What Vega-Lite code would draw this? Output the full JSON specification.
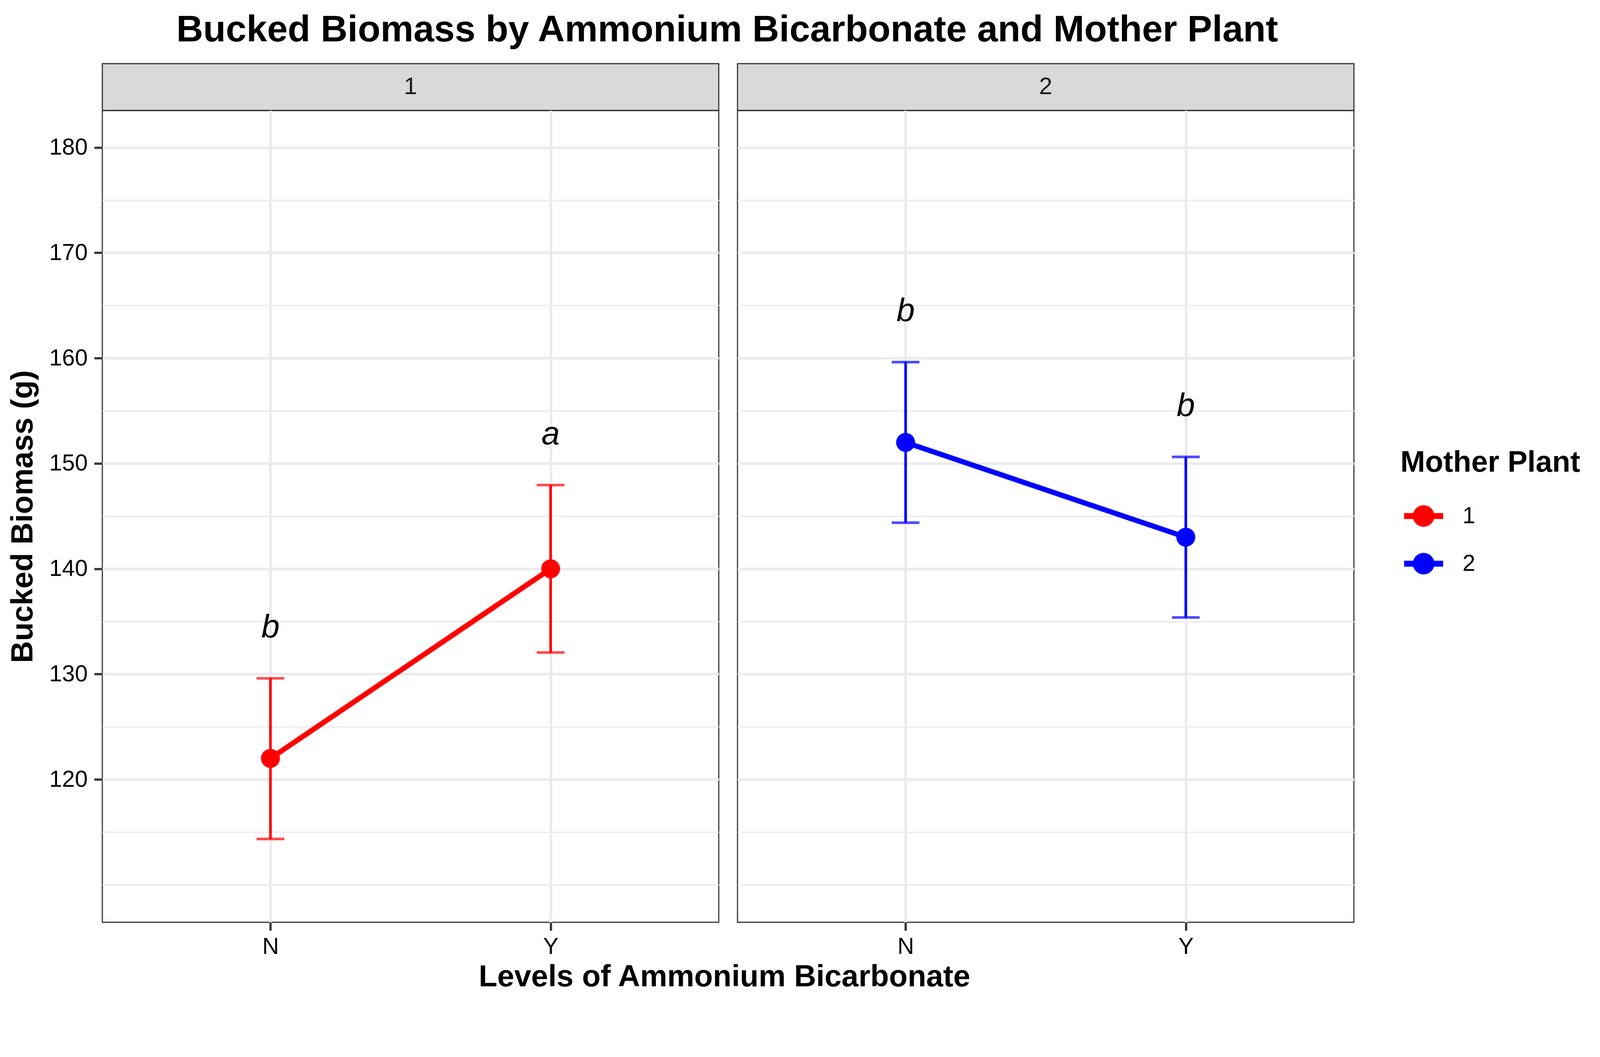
{
  "$schema": "https://vega.github.io/schema/vega-lite/v6.json",
  "background": "white",
  "padding": {"left": 19, "top": 29, "right": 40, "bottom": 20},
  "config": {
    "font": "Liberation Sans",
    "view": {"stroke": "#333333", "strokeWidth": 2.9},
    "axis": {
      "labelFont": "Liberation Sans",
      "labelFontSize": 59,
      "labelColor": "#000000",
      "titleFont": "Liberation Sans",
      "titleFontSize": 78,
      "titleFontWeight": "bold",
      "titleColor": "#000000",
      "tickColor": "#333333",
      "tickSize": 21,
      "tickWidth": 5.7,
      "gridColor": "#EBEBEB",
      "domain": false
    },
    "legend": {
      "orient": "none",
      "legendX": 3323,
      "legendY": 985,
      "padding": 0,
      "titleFontSize": 76,
      "titleFontWeight": "bold",
      "titleColor": "#000000",
      "titleFont": "Liberation Sans",
      "titleBaseline": "top",
      "titlePadding": 47.6,
      "titleLimit": 2000,
      "labelFontSize": 59,
      "labelColor": "#000000",
      "labelFont": "Liberation Sans",
      "labelOffset": 49.5,
      "rowPadding": 42,
      "symbolOffset": 9.5,
      "symbolType": "M-1,-0.152L1,-0.152L1,0.152L-1,0.152Z M0.552,0A0.552,0.552,0,1,1,-0.552,0A0.552,0.552,0,1,1,0.552,0Z",
      "symbolSize": 10000,
      "symbolStrokeWidth": 0,
      "symbolOpacity": 1
    }
  },
  "datasets": {
    "means": [
      {"plant": "1", "trt": "N", "mean": 122, "lower": 114.35, "upper": 129.6, "letter": "b"},
      {"plant": "1", "trt": "Y", "mean": 140, "lower": 132.05, "upper": 147.95, "letter": "a"},
      {"plant": "2", "trt": "N", "mean": 152, "lower": 144.38, "upper": 159.62, "letter": "b"},
      {"plant": "2", "trt": "Y", "mean": 143, "lower": 135.38, "upper": 150.62, "letter": "b"}
    ],
    "strips": [
      {"plant": "1"},
      {"plant": "2"}
    ]
  },
  "title": {
    "text": "Bucked Biomass by Ammonium Bicarbonate and Mother Plant",
    "fontSize": 95,
    "fontWeight": "bold",
    "color": "#000000",
    "anchor": "start",
    "frame": "bounds",
    "baseline": "bottom",
    "dx": 432,
    "offset": -59
  },
  "resolve": {"scale": {"color": "shared"}, "legend": {"color": "shared"}},
  "vconcat": [
    {
      "title": {
        "text": "Levels of Ammonium Bicarbonate",
        "orient": "bottom",
        "fontSize": 78,
        "fontWeight": "bold",
        "color": "#000000",
        "anchor": "start",
        "frame": "bounds",
        "baseline": "top",
        "dx": 1206,
        "offset": 8
      },
      "spacing": 44,
      "resolve": {"scale": {"color": "shared"}, "legend": {"color": "shared"}},
      "hconcat": [
        {
          "spacing": 0,
          "bounds": "flush",
          "vconcat": [
            {
              "width": 1578,
              "height": 120,
              "data": {"name": "strips"},
              "transform": [{"filter": "datum.plant === '1'"}],
              "view": {"fill": "#D9D9D9", "stroke": "#333333", "strokeWidth": 2.9},
              "mark": {"type": "text", "fontSize": 61, "color": "#1A1A1A", "baseline": "middle", "align": "center"},
              "encoding": {"text": {"field": "plant", "type": "nominal"}}
            },
            {
              "width": 1578,
              "height": 2079,
              "data": {"name": "means"},
              "transform": [{"filter": "datum.plant === '1'"}],
              "encoding": {
                "x": {
                  "field": "trt",
                  "type": "nominal",
                  "scale": {"type": "point", "domain": ["N", "Y"], "padding": 0.6},
                  "axis": {"title": null, "labelAngle": 0, "labelPadding": 12.4, "grid": true, "gridWidth": 6.7}
                },
                "color": {"field": "plant", "type": "nominal", "scale": {"domain": ["1", "2"], "range": ["#FF0000", "#0000FF"]}, "title": "Mother Plant"}
              },
              "layer": [
                {
                  "mark": {"type": "rule", "strokeWidth": 6.7},
                  "encoding": {
                    "y": {
                      "field": "lower",
                      "type": "quantitative",
                      "title": "Bucked Biomass (g)",
                      "scale": {"domain": [106.44, 183.51], "nice": false, "zero": false},
                      "axis": {
                        "values": [110, 115, 120, 125, 130, 135, 140, 145, 150, 155, 160, 165, 170, 175, 180],
                        "labelExpr": "datum.value % 10 === 0 && datum.value >= 120 ? datum.label : ''",
                        "gridWidth": {"condition": {"test": "datum.value % 10 === 0 && datum.value >= 120", "value": 6.7}, "value": 3.3},
                        "tickOpacity": {"condition": {"test": "datum.value % 10 === 0 && datum.value >= 120", "value": 1}, "value": 0},
                        "labelPadding": 17,
                        "titlePadding": 26.7
                      }
                    },
                    "y2": {"field": "upper"}
                  }
                },
                {
                  "mark": {"type": "tick", "orient": "horizontal", "size": 71, "thickness": 6.7},
                  "encoding": {"y": {"field": "lower", "type": "quantitative", "title": "Bucked Biomass (g)"}}
                },
                {
                  "mark": {"type": "tick", "orient": "horizontal", "size": 71, "thickness": 6.7},
                  "encoding": {"y": {"field": "upper", "type": "quantitative", "title": "Bucked Biomass (g)"}}
                },
                {
                  "mark": {"type": "line", "strokeWidth": 13.3},
                  "encoding": {"y": {"field": "mean", "type": "quantitative", "title": "Bucked Biomass (g)"}}
                },
                {
                  "mark": {"type": "point", "filled": true, "size": 2358, "opacity": 1, "shape": "circle"},
                  "encoding": {"y": {"field": "mean", "type": "quantitative", "title": "Bucked Biomass (g)"}}
                },
                {
                  "mark": {"type": "text", "fontSize": 84, "fontStyle": "italic", "color": "#000000", "baseline": "middle", "dy": -129.5},
                  "encoding": {
                    "y": {"field": "upper", "type": "quantitative", "title": "Bucked Biomass (g)"},
                    "text": {"field": "letter", "type": "nominal"},
                    "color": {"value": "#000000"}
                  }
                }
              ]
            }
          ]
        },
        {
          "spacing": 0,
          "bounds": "flush",
          "vconcat": [
            {
              "width": 1578,
              "height": 120,
              "data": {"name": "strips"},
              "transform": [{"filter": "datum.plant === '2'"}],
              "view": {"fill": "#D9D9D9", "stroke": "#333333", "strokeWidth": 2.9},
              "mark": {"type": "text", "fontSize": 61, "color": "#1A1A1A", "baseline": "middle", "align": "center"},
              "encoding": {"text": {"field": "plant", "type": "nominal"}}
            },
            {
              "width": 1578,
              "height": 2079,
              "data": {"name": "means"},
              "transform": [{"filter": "datum.plant === '2'"}],
              "encoding": {
                "x": {
                  "field": "trt",
                  "type": "nominal",
                  "scale": {"type": "point", "domain": ["N", "Y"], "padding": 0.6},
                  "axis": {"title": null, "labelAngle": 0, "labelPadding": 12.4, "grid": true, "gridWidth": 6.7}
                },
                "color": {"field": "plant", "type": "nominal", "scale": {"domain": ["1", "2"], "range": ["#FF0000", "#0000FF"]}, "title": "Mother Plant"}
              },
              "layer": [
                {
                  "mark": {"type": "rule", "strokeWidth": 6.7},
                  "encoding": {
                    "y": {
                      "field": "lower",
                      "type": "quantitative",
                      "title": null,
                      "scale": {"domain": [106.44, 183.51], "nice": false, "zero": false},
                      "axis": {
                        "values": [110, 115, 120, 125, 130, 135, 140, 145, 150, 155, 160, 165, 170, 175, 180],
                        "labels": false,
                        "ticks": false,
                        "title": null,
                        "gridWidth": {"condition": {"test": "datum.value % 10 === 0 && datum.value >= 120", "value": 6.7}, "value": 3.3}
                      }
                    },
                    "y2": {"field": "upper"}
                  }
                },
                {
                  "mark": {"type": "tick", "orient": "horizontal", "size": 71, "thickness": 6.7},
                  "encoding": {"y": {"field": "lower", "type": "quantitative", "title": null}}
                },
                {
                  "mark": {"type": "tick", "orient": "horizontal", "size": 71, "thickness": 6.7},
                  "encoding": {"y": {"field": "upper", "type": "quantitative", "title": null}}
                },
                {
                  "mark": {"type": "line", "strokeWidth": 13.3},
                  "encoding": {"y": {"field": "mean", "type": "quantitative", "title": null}}
                },
                {
                  "mark": {"type": "point", "filled": true, "size": 2358, "opacity": 1, "shape": "circle"},
                  "encoding": {"y": {"field": "mean", "type": "quantitative", "title": null}}
                },
                {
                  "mark": {"type": "text", "fontSize": 84, "fontStyle": "italic", "color": "#000000", "baseline": "middle", "dy": -129.5},
                  "encoding": {
                    "y": {"field": "upper", "type": "quantitative", "title": null},
                    "text": {"field": "letter", "type": "nominal"},
                    "color": {"value": "#000000"}
                  }
                }
              ]
            }
          ]
        }
      ]
    }
  ]
}
